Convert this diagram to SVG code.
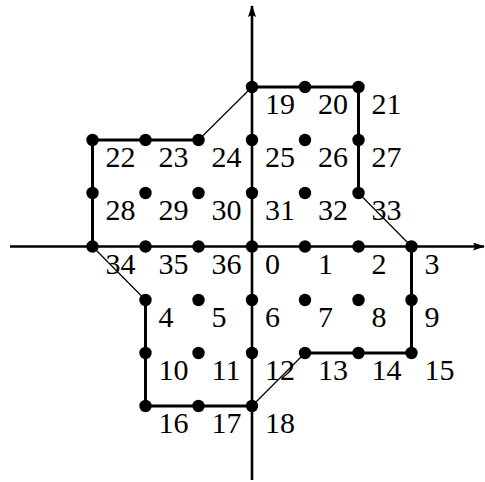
<svg xmlns="http://www.w3.org/2000/svg" width="485" height="482" viewBox="0 0 485 482">
<style>
.dot{fill:#000}
.lbl{font-family:"Liberation Serif","Times New Roman",serif;font-size:30px;fill:#000}
.thick{stroke:#000;stroke-width:3;fill:none;stroke-linecap:round;stroke-linejoin:round}
.thin{stroke:#000;stroke-width:1.2;fill:none}
.axis{stroke:#000;stroke-width:2.6;fill:none}
</style>
<defs>
<marker id="arr" viewBox="0 0 12 8" refX="11" refY="4" markerWidth="12" markerHeight="8" markerUnits="userSpaceOnUse" orient="auto">
<path d="M0,0 L12,4 L0,8 L2,4 Z" fill="#000"/>
</marker>
</defs>
<g id="connectors">
<line class="axis" x1="10" y1="246.5" x2="484" y2="246.5" marker-end="url(#arr)"/>
<line class="axis" x1="252" y1="480" x2="252" y2="6" marker-end="url(#arr)"/>
<polyline class="thick" points="252,87 358.5,87 358.5,193"/>
<line class="thin" x1="358.5" y1="193" x2="411.5" y2="246.5"/>
<polyline class="thick" points="411.5,246.5 411.5,353 305,353"/>
<line class="thin" x1="305" y1="353" x2="252" y2="406"/>
<polyline class="thick" points="252,406 145.5,406 145.5,300"/>
<line class="thin" x1="145.5" y1="300" x2="92.5" y2="246.5"/>
<polyline class="thick" points="92.5,246.5 92.5,140 198.5,140"/>
<line class="thin" x1="198.5" y1="140" x2="252" y2="87"/>
</g>
<g id="n19"><circle class="dot" cx="252" cy="87" r="6.2"/><text class="lbl" x="265" y="114">19</text></g>
<g id="n20"><circle class="dot" cx="305" cy="87" r="6.2"/><text class="lbl" x="318" y="114">20</text></g>
<g id="n21"><circle class="dot" cx="358.5" cy="87" r="6.2"/><text class="lbl" x="371.5" y="114">21</text></g>
<g id="n22"><circle class="dot" cx="92.5" cy="140" r="6.2"/><text class="lbl" x="105.5" y="167">22</text></g>
<g id="n23"><circle class="dot" cx="145.5" cy="140" r="6.2"/><text class="lbl" x="158.5" y="167">23</text></g>
<g id="n24"><circle class="dot" cx="198.5" cy="140" r="6.2"/><text class="lbl" x="211.5" y="167">24</text></g>
<g id="n25"><circle class="dot" cx="252" cy="140" r="6.2"/><text class="lbl" x="265" y="167">25</text></g>
<g id="n26"><circle class="dot" cx="305" cy="140" r="6.2"/><text class="lbl" x="318" y="167">26</text></g>
<g id="n27"><circle class="dot" cx="358.5" cy="140" r="6.2"/><text class="lbl" x="371.5" y="167">27</text></g>
<g id="n28"><circle class="dot" cx="92.5" cy="193" r="6.2"/><text class="lbl" x="105.5" y="220">28</text></g>
<g id="n29"><circle class="dot" cx="145.5" cy="193" r="6.2"/><text class="lbl" x="158.5" y="220">29</text></g>
<g id="n30"><circle class="dot" cx="198.5" cy="193" r="6.2"/><text class="lbl" x="211.5" y="220">30</text></g>
<g id="n31"><circle class="dot" cx="252" cy="193" r="6.2"/><text class="lbl" x="265" y="220">31</text></g>
<g id="n32"><circle class="dot" cx="305" cy="193" r="6.2"/><text class="lbl" x="318" y="220">32</text></g>
<g id="n33"><circle class="dot" cx="358.5" cy="193" r="6.2"/><text class="lbl" x="371.5" y="220">33</text></g>
<g id="n34"><circle class="dot" cx="92.5" cy="246.5" r="6.2"/><text class="lbl" x="105.5" y="273.5">34</text></g>
<g id="n35"><circle class="dot" cx="145.5" cy="246.5" r="6.2"/><text class="lbl" x="158.5" y="273.5">35</text></g>
<g id="n36"><circle class="dot" cx="198.5" cy="246.5" r="6.2"/><text class="lbl" x="211.5" y="273.5">36</text></g>
<g id="n0"><circle class="dot" cx="252" cy="246.5" r="6.2"/><text class="lbl" x="265" y="273.5">0</text></g>
<g id="n1"><circle class="dot" cx="305" cy="246.5" r="6.2"/><text class="lbl" x="318" y="273.5">1</text></g>
<g id="n2"><circle class="dot" cx="358.5" cy="246.5" r="6.2"/><text class="lbl" x="371.5" y="273.5">2</text></g>
<g id="n3"><circle class="dot" cx="411.5" cy="246.5" r="6.2"/><text class="lbl" x="424.5" y="273.5">3</text></g>
<g id="n4"><circle class="dot" cx="145.5" cy="300" r="6.2"/><text class="lbl" x="158.5" y="327">4</text></g>
<g id="n5"><circle class="dot" cx="198.5" cy="300" r="6.2"/><text class="lbl" x="211.5" y="327">5</text></g>
<g id="n6"><circle class="dot" cx="252" cy="300" r="6.2"/><text class="lbl" x="265" y="327">6</text></g>
<g id="n7"><circle class="dot" cx="305" cy="300" r="6.2"/><text class="lbl" x="318" y="327">7</text></g>
<g id="n8"><circle class="dot" cx="358.5" cy="300" r="6.2"/><text class="lbl" x="371.5" y="327">8</text></g>
<g id="n9"><circle class="dot" cx="411.5" cy="300" r="6.2"/><text class="lbl" x="424.5" y="327">9</text></g>
<g id="n10"><circle class="dot" cx="145.5" cy="353" r="6.2"/><text class="lbl" x="158.5" y="380">10</text></g>
<g id="n11"><circle class="dot" cx="198.5" cy="353" r="6.2"/><text class="lbl" x="211.5" y="380">11</text></g>
<g id="n12"><circle class="dot" cx="252" cy="353" r="6.2"/><text class="lbl" x="265" y="380">12</text></g>
<g id="n13"><circle class="dot" cx="305" cy="353" r="6.2"/><text class="lbl" x="318" y="380">13</text></g>
<g id="n14"><circle class="dot" cx="358.5" cy="353" r="6.2"/><text class="lbl" x="371.5" y="380">14</text></g>
<g id="n15"><circle class="dot" cx="411.5" cy="353" r="6.2"/><text class="lbl" x="424.5" y="380">15</text></g>
<g id="n16"><circle class="dot" cx="145.5" cy="406" r="6.2"/><text class="lbl" x="158.5" y="433">16</text></g>
<g id="n17"><circle class="dot" cx="198.5" cy="406" r="6.2"/><text class="lbl" x="211.5" y="433">17</text></g>
<g id="n18"><circle class="dot" cx="252" cy="406" r="6.2"/><text class="lbl" x="265" y="433">18</text></g>
</svg>
